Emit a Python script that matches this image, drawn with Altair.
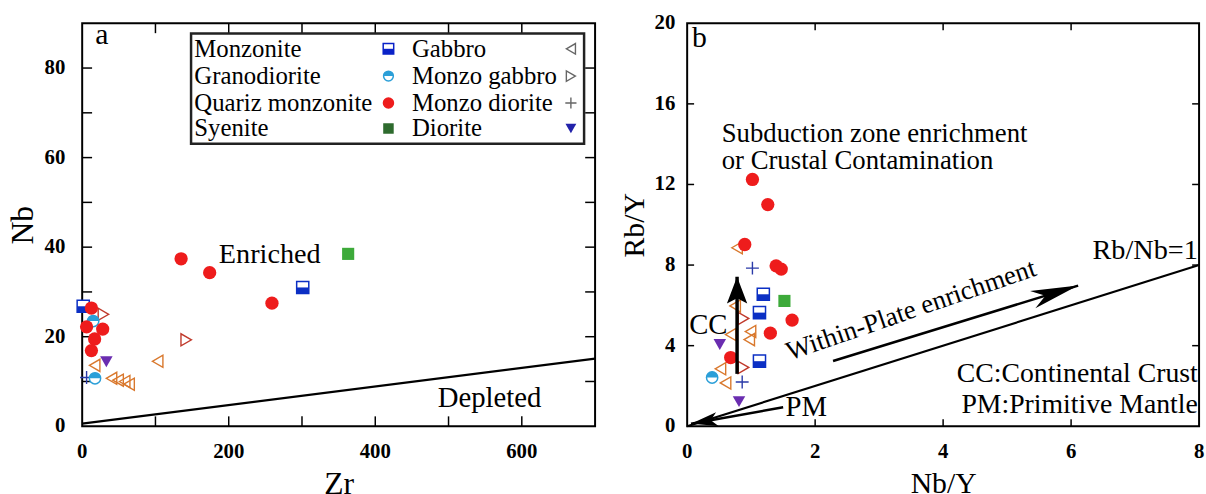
import math
import altair as alt
import pandas as pd

FONT = "Liberation Serif"

# ---------------- Panel a : Nb vs Zr ----------------
a_zr = [135, 174, 259, 12.6, 6, 28, 17, 12.6,
        301, 1.4,
        363,
        142, 29,
        103, 40, 49, 58, 64, 17,
        15, 17.5,
        6,
        33]
a_nb = [37.4, 34.3, 27.5, 26.4, 22.2, 21.7, 19.5, 16.9,
        31.0, 26.8,
        38.5,
        19.3, 25.0,
        14.5, 10.7, 10.3, 10.0, 9.4, 13.6,
        23.5, 10.7,
        10.9,
        14.4]
a_type = (["Quariz monzonite"] * 8 + ["Monzonite"] * 2 + ["Syenite"] +
          ["Monzo gabbro"] * 2 + ["Gabbro"] * 6 + ["Granodiorite"] * 2 +
          ["Monzo diorite"] + ["Diorite"])

a_line_x = [0, 700]
a_line_y = [0.6, 15.1]
a_xticks = [100, 200, 300, 400, 500, 600]
a_yticks = [10, 20, 30, 40, 50, 60, 70, 80]
a_xlabels = [0, 200, 400, 600]
a_ylabels = [0, 20, 40, 60, 80]

# legend (drawn inside panel a)
leg_box_x = [148.6, 685]
leg_box_y = [63.1, 87.7]
leg_rows = [84.3, 78.2, 72.2, 66.5]
leg_names1 = ["Monzonite", "Granodiorite", "Quariz monzonite", "Syenite"]
leg_names2 = ["Gabbro", "Monzo gabbro", "Monzo diorite", "Diorite"]
leg_col = [153, 418, 450, 667]

# ---------------- Panel b : Rb/Y vs Nb/Y ----------------
b_nby = [1.02, 1.26, 0.90, 1.39, 1.47, 1.64, 1.30, 0.68,
         1.19, 1.13, 1.13,
         1.52,
         0.78, 0.75, 0.68, 0.99, 0.97, 0.52, 0.60,
         0.88, 0.88,
         1.02, 0.86,
         0.39,
         0.51, 0.81]
b_rby = [12.25, 11.0, 9.02, 7.96, 7.80, 5.27, 4.62, 3.41,
         6.55, 5.64, 3.23,
         6.22,
         8.86, 5.97, 4.55, 4.70, 4.30, 2.85, 2.15,
         5.35, 2.92,
         7.85, 2.20,
         2.42,
         4.06, 1.22]
b_type = (["Quariz monzonite"] * 8 + ["Monzonite"] * 3 + ["Syenite"] +
          ["Gabbro"] * 7 + ["Monzo gabbro"] * 2 + ["Monzo diorite"] * 2 +
          ["Granodiorite"] + ["Diorite"] * 2)

b_ref_x = [0, 8]          # Rb/Nb = 1
b_ref_y = [0, 8]
b_wp_x = [2.28, 6.11]     # within-plate enrichment arrow (tail, tip)
b_wp_y = [3.24, 6.98]
b_pm_x = [1.50, 0.06]     # PM arrow (tail, tip)
b_pm_y = [0.94, 0.12]
b_cc_x = [0.78, 0.78]     # CC arrow (tail, tip)
b_cc_y = [2.60, 7.42]
b_xticks = [2, 4, 6]
b_yticks = [4, 8, 12, 16]
b_xlabels = [0, 2, 4, 6, 8]
b_ylabels = [0, 4, 8, 12, 16, 20]

WA, HA = 518, 407
WB, HB = 517, 407

COL = {
    "Monzonite": "#0b2fc4",
    "Granodiorite": "#2b9fd8",
    "Quariz monzonite": "#ee1c1c",
    "Syenite": "#3daa3a",
    "Gabbro": "#d9782d",
    "Monzo gabbro": "#c0392b",
    "Monzo diorite": "#2a3aa8",
    "Diorite": "#6a2db0",
}
LEG_COL = dict(COL)
LEG_COL.update({"Syenite": "#2e6b2e", "Gabbro": "#666666", "Monzo gabbro": "#666666",
                "Monzo diorite": "#666666", "Diorite": "#2222aa", "Monzonite": "#0a22c8"})

HALF_BOTTOM = "M-1,0L1,0L1,1L-1,1Z"
HALF_TOP_CIRC = "M-1,0A1,1 0 0,1 1,0Z"
PLUS = "M-1,0L1,0M0,-1L0,1"


def head_path(hw, notch):
    return f"M0,0L{hw},1L0,{notch}L{-hw},1Z"


def make_enc(xdom, ydom, xtitle, ytitle, xtp, ytp, tsize):
    common = dict(ticks=False, domain=False, grid=False, labels=False, titleFont=FONT,
                  titleColor="black", titleFontSize=tsize, titleFontWeight="normal")

    def X(field="x"):
        return alt.X(field, type="quantitative",
                     scale=alt.Scale(domain=xdom, nice=False, zero=False),
                     axis=alt.Axis(title=xtitle, titlePadding=xtp, **common))

    def Y(field="y"):
        return alt.Y(field, type="quantitative",
                     scale=alt.Scale(domain=ydom, nice=False, zero=False),
                     axis=alt.Axis(title=ytitle, titlePadding=ytp, **common))
    return X, Y


def tick_label_layers(xl, yl, X, Y, H, xpad, ypad, size=21):
    dx = pd.DataFrame({"x": xl, "label": [str(v) for v in xl]})
    dy = pd.DataFrame({"y": yl, "label": [str(v) for v in yl]})
    kw = dict(font=FONT, fontSize=size, fontWeight="bold", color="black")
    return [
        alt.Chart(dx).mark_text(align="center", baseline="top", **kw).encode(
            x=X(), y=alt.value(H + xpad), text="label:N"),
        alt.Chart(dy).mark_text(align="right", baseline="middle", **kw).encode(
            y=Y(), x=alt.value(-ypad), text="label:N"),
    ]


def symbol_layers(df, kind, color, X, Y, size):
    base = alt.Chart(df)
    enc = dict(x=X(), y=Y())
    if kind == "halfsq":
        return [base.mark_point(shape="square", filled=True, fill="white", stroke=color,
                                strokeWidth=1.5, size=size, opacity=1).encode(**enc),
                base.mark_point(shape=HALF_BOTTOM, filled=True, fill=color, strokeWidth=0,
                                size=size, opacity=1).encode(**enc)]
    if kind == "halfcirc":
        return [base.mark_point(shape="circle", filled=True, fill="white", stroke=color,
                                strokeWidth=1.5, size=size, opacity=1).encode(**enc),
                base.mark_point(shape=HALF_TOP_CIRC, filled=True, fill=color, strokeWidth=0,
                                size=size, opacity=1).encode(**enc)]
    if kind == "circle":
        return [base.mark_point(shape="circle", filled=True, color=color, size=size,
                                opacity=1).encode(**enc)]
    if kind == "square":
        return [base.mark_point(shape="square", filled=True, color=color, size=size,
                                opacity=1).encode(**enc)]
    if kind in ("triangle-left", "triangle-right"):
        return [base.mark_point(shape=kind, filled=False, color=color, strokeWidth=1.4,
                                size=size, opacity=1).encode(**enc)]
    if kind == "plus":
        return [base.mark_point(shape=PLUS, filled=False, color=color, strokeWidth=1.4,
                                size=size, opacity=1).encode(**enc)]
    if kind == "triangle-down":
        return [base.mark_point(shape="triangle-down", filled=True, color=color, size=size,
                                opacity=1).encode(**enc)]
    return []


KIND = {
    "Monzonite": ("halfsq", 150),
    "Granodiorite": ("halfcirc", 130),
    "Quariz monzonite": ("circle", 180),
    "Syenite": ("square", 150),
    "Gabbro": ("triangle-left", 150),
    "Monzo gabbro": ("triangle-right", 150),
    "Monzo diorite": ("plus", 170),
    "Diorite": ("triangle-down", 160),
}
ORDER = ["Gabbro", "Monzo gabbro", "Monzo diorite", "Granodiorite", "Diorite",
         "Monzonite", "Syenite", "Quariz monzonite"]


def points_layers(xs, ys, types, X, Y, colors, scale=1.0):
    df = pd.DataFrame({"x": xs, "y": ys, "t": types})
    layers = []
    for t in ORDER:
        sub = df[df["t"] == t]
        if len(sub) == 0:
            continue
        kind, size = KIND[t]
        layers += symbol_layers(sub, kind, colors[t], X, Y, size * scale)
    return layers


def text_layer(xs, ys, labels, X, Y, size, align="center", angle=0, weight="normal"):
    df = pd.DataFrame({"x": xs, "y": ys, "label": labels})
    kw = dict(font=FONT, fontSize=size, align=align, baseline="middle", color="black",
              fontWeight=weight)
    if angle:
        kw["angle"] = angle
    return alt.Chart(df).mark_text(**kw).encode(x=X(), y=Y(), text="label:N")


def line_layer(xs, ys, X, Y, width=2.2):
    df = pd.DataFrame({"x": xs, "y": ys, "o": list(range(len(xs)))})
    return alt.Chart(df).mark_line(color="black", strokeWidth=width).encode(
        x=X(), y=Y(), order="o:Q")


def tick_layers(xt, yt, X, Y, W, H, L):
    dx = pd.DataFrame({"x": xt})
    dy = pd.DataFrame({"y": yt})
    rc = dict(color="black", strokeWidth=1.5)
    return [
        alt.Chart(dx).mark_rule(**rc).encode(x=X(), y=alt.value(H), y2=alt.value(H - L)),
        alt.Chart(dx).mark_rule(**rc).encode(x=X(), y=alt.value(0), y2=alt.value(L)),
        alt.Chart(dy).mark_rule(**rc).encode(y=Y(), x=alt.value(0), x2=alt.value(L)),
        alt.Chart(dy).mark_rule(**rc).encode(y=Y(), x=alt.value(W), x2=alt.value(W - L)),
    ]


def arrow_head(xs, ys, X, Y, W, H, xdom, ydom, length, hw, notch):
    dxp = (xs[1] - xs[0]) * W / (xdom[1] - xdom[0])
    dyp = (ys[1] - ys[0]) * H / (ydom[1] - ydom[0])
    ang = math.degrees(math.atan2(dxp, dyp)) % 360
    df = pd.DataFrame({"x": [xs[1]], "y": [ys[1]]})
    return alt.Chart(df).mark_point(shape=head_path(hw, notch), filled=True, color="black",
                                    size=(2 * length) ** 2, angle=ang, opacity=1,
                                    strokeWidth=0).encode(x=X(), y=Y())


# ---------------- build panel a ----------------
XA, YA = make_enc([0, 700], [0, 90], "Zr", "Nb", 43, 43, 32)
la = []
la += tick_layers(a_xticks, a_yticks, XA, YA, WA, HA, 10)
la += tick_label_layers(a_xlabels, a_ylabels, XA, YA, HA, 15, 17)
la.append(line_layer(a_line_x, a_line_y, XA, YA, 2.2))
la += points_layers(a_zr, a_nb, a_type, XA, YA, COL)
la.append(text_layer([27], [87.3], ["a"], XA, YA, 30))
la.append(text_layer([256], [38.4], ["Enriched"], XA, YA, 28.5))
la.append(text_layer([556], [6.4], ["Depleted"], XA, YA, 29))
# legend box
box = pd.DataFrame({"x": [leg_box_x[0]], "x2": [leg_box_x[1]],
                    "y": [leg_box_y[0]], "y2": [leg_box_y[1]]})
la.append(alt.Chart(box).mark_rect(fill="white", stroke="#222222", strokeWidth=2.5).encode(
    x=XA("x"), x2="x2", y=YA("y"), y2="y2"))
la.append(text_layer([leg_col[0]] * 4, leg_rows, leg_names1, XA, YA, 25, align="left"))
la.append(text_layer([leg_col[2]] * 4, leg_rows, leg_names2, XA, YA, 25, align="left"))
la += points_layers([leg_col[1]] * 4, leg_rows, leg_names1, XA, YA, LEG_COL, 0.75)
la += points_layers([leg_col[3]] * 4, leg_rows, leg_names2, XA, YA, LEG_COL, 0.75)
panel_a = alt.layer(*la).properties(width=WA, height=HA)

# ---------------- build panel b ----------------
XB, YB = make_enc([0, 8], [0, 20], "Nb/Y", "Rb/Y", 43, 38, 30)
lb = []
lb += tick_layers(b_xticks, b_yticks, XB, YB, WB, HB, 7)
lb += tick_label_layers(b_xlabels, b_ylabels, XB, YB, HB, 15, 12)
lb.append(line_layer(b_ref_x, b_ref_y, XB, YB, 2.2))
lb.append(line_layer(b_wp_x, b_wp_y, XB, YB, 2.5))
lb.append(line_layer(b_pm_x, b_pm_y, XB, YB, 2.5))
lb += points_layers(b_nby, b_rby, b_type, XB, YB, COL)
lb.append(line_layer(b_cc_x, b_cc_y, XB, YB, 3.5))
lb.append(arrow_head(b_wp_x, b_wp_y, XB, YB, WB, HB, [0, 8], [0, 20], 48, 0.19, 0.72))
lb.append(arrow_head(b_pm_x, b_pm_y, XB, YB, WB, HB, [0, 8], [0, 20], 27, 0.26, 0.75))
lb.append(arrow_head(b_cc_x, b_cc_y, XB, YB, WB, HB, [0, 8], [0, 20], 27, 0.38, 0.8))
lb.append(text_layer([0.19], [19.25], ["b"], XB, YB, 30))
lb.append(text_layer([0.54, 0.54], [14.5, 13.15],
                     ["Subduction zone enrichment", "or Crustal Contamination"],
                     XB, YB, 27, align="left"))
lb.append(text_layer([7.98], [8.75], ["Rb/Nb=1"], XB, YB, 28.5, align="right"))
lb.append(text_layer([3.5], [5.75], ["Within-Plate enrichment"], XB, YB, 27, angle=341))
lb.append(text_layer([0.33], [5.0], ["CC"], XB, YB, 29))
lb.append(text_layer([1.86], [0.95], ["PM"], XB, YB, 29))
lb.append(text_layer([7.98, 7.98], [2.6, 1.05],
                     ["CC:Continental Crust", "PM:Primitive Mantle"],
                     XB, YB, 28, align="right"))
panel_b = alt.layer(*lb).properties(width=WB, height=HB)

chart = (alt.hconcat(panel_a, panel_b, spacing=18)
         .properties(padding={"left": 6, "top": 9, "right": 0, "bottom": 0},
                     background="white")
         .configure_view(stroke="black", strokeWidth=2)
         .configure_text(font=FONT))

chart.save("out.html", embed_options={"renderer": "svg", "actions": False})
